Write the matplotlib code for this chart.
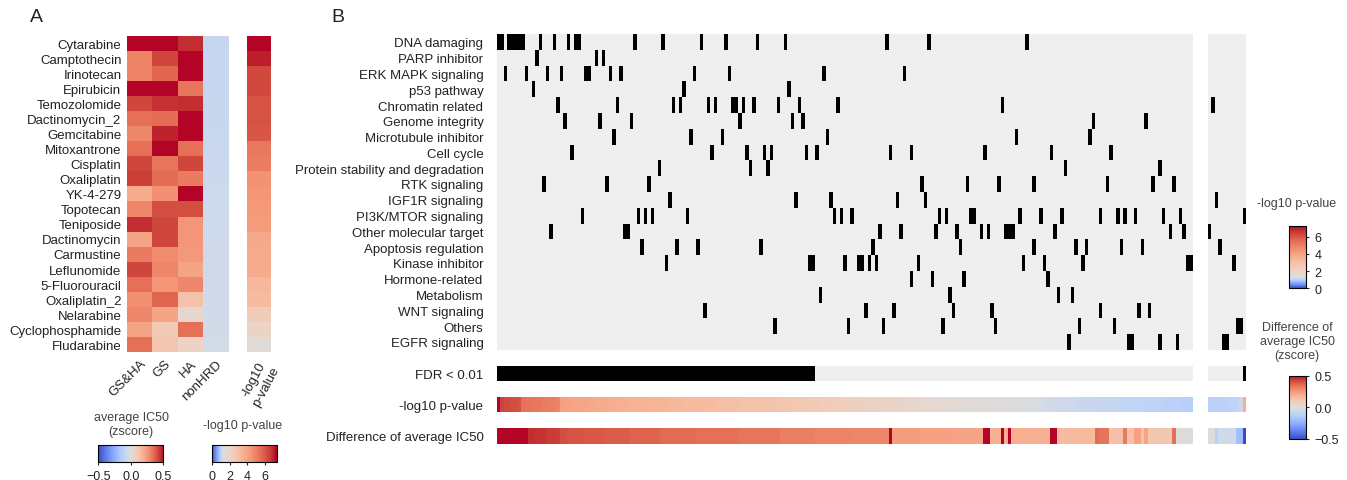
import numpy as np
import matplotlib
matplotlib.use("Agg")
import matplotlib.pyplot as plt
from matplotlib.colors import ListedColormap, Normalize, TwoSlopeNorm
from matplotlib.cm import ScalarMappable

plt.rcParams['font.family'] = ['Liberation Sans', 'DejaVu Sans']
plt.rcParams['font.size'] = 9
plt.rcParams['text.color'] = '#222222'
plt.rcParams['xtick.color'] = '#222222'
plt.rcParams['ytick.color'] = '#222222'

# ---------------- panel A data ----------------
drugs = ["Cytarabine", "Camptothecin", "Irinotecan", "Epirubicin", "Temozolomide",
         "Dactinomycin_2", "Gemcitabine", "Mitoxantrone", "Cisplatin", "Oxaliplatin",
         "YK-4-279", "Topotecan", "Teniposide", "Dactinomycin", "Carmustine",
         "Leflunomide", "5-Fluorouracil", "Oxaliplatin_2", "Nelarabine",
         "Cyclophosphamide", "Fludarabine"]
groups = ["GS&HA", "GS", "HA", "nonHRD"]

ic50_gs_ha = [0.55, 0.30, 0.30, 0.55, 0.42, 0.34, 0.29, 0.34, 0.42, 0.43, 0.20,
              0.29, 0.46, 0.22, 0.32, 0.42, 0.34, 0.27, 0.29, 0.22, 0.34]
ic50_gs = [0.55, 0.42, 0.36, 0.55, 0.45, 0.35, 0.47, 0.55, 0.33, 0.35, 0.27,
           0.41, 0.42, 0.42, 0.28, 0.29, 0.26, 0.36, 0.22, 0.10, 0.12]
ic50_ha = [0.46, 0.55, 0.55, 0.33, 0.46, 0.55, 0.55, 0.34, 0.42, 0.32, 0.55,
           0.41, 0.26, 0.26, 0.25, 0.22, 0.29, 0.13, 0.04, 0.34, 0.06]
ic50_nonhrd = [-0.075, -0.074, -0.073, -0.072, -0.07, -0.068, -0.066, -0.064, -0.062,
               -0.06, -0.058, -0.056, -0.054, -0.052, -0.05, -0.048, -0.046, -0.043,
               -0.04, -0.036, -0.032]
pval_drugs = [7.3, 7.0, 6.3, 6.3, 6.1, 6.1, 6.0, 5.2, 5.1, 4.5, 4.4, 4.3, 4.2,
              3.8, 3.7, 3.7, 3.3, 3.1, 2.4, 2.0, 1.4]

# ---------------- panel B data ----------------
categories = ["DNA damaging", "PARP inhibitor", "ERK MAPK signaling", "p53 pathway",
              "Chromatin related", "Genome integrity", "Microtubule inhibitor",
              "Cell cycle", "Protein stability and degradation", "RTK signaling",
              "IGF1R signaling", "PI3K/MTOR signaling", "Other molecular target",
              "Apoptosis regulation", "Kinase inhibitor", "Hormone-related",
              "Metabolism", "WNT signaling", "Others", "EGFR signaling"]

n_main = 199
n_right = 11

# column index of each drug (sorted by p-value) that belongs to a category
cat_main = [
    [0, 1, 3, 4, 5, 6, 7, 12, 16, 20, 22, 23, 39, 47, 58, 65, 74, 82, 111, 123, 151],
    [11, 28, 30],
    [2, 8, 14, 18, 25, 26, 32, 35, 56, 66, 93, 116],
    [10, 53, 83],
    [17, 34, 50, 52, 60, 62, 67, 68, 70, 73, 80, 86, 97, 144],
    [19, 29, 38, 69, 84, 87, 170, 185],
    [33, 55, 64, 94, 148, 169],
    [21, 61, 71, 76, 78, 88, 91, 112, 118, 139, 158, 175],
    [46, 72, 77, 162, 189],
    [13, 31, 43, 121, 134, 143, 153, 174, 187, 193],
    [49, 85, 95, 114, 122],
    [24, 40, 42, 44, 54, 96, 98, 101, 126, 128, 135, 136, 149, 155, 161, 172, 177,
     179, 182, 190, 195],
    [15, 36, 37, 109, 115, 125, 131, 138, 140, 145, 146, 147, 159, 192, 196],
    [41, 51, 57, 75, 107, 132, 153, 165, 168, 178, 184],
    [48, 89, 90, 99, 103, 104, 106, 108, 120, 150, 156, 167, 197, 198],
    [118, 124, 133, 157],
    [92, 129, 160, 164],
    [59, 105, 113, 130, 141, 172, 183, 186],
    [79, 100, 110, 127, 142, 166, 176],
    [163, 180, 181, 189, 194],
]
cat_right = [[], [], [], [], [1], [], [], [], [], [], [2], [10], [0], [3], [7],
             [], [], [], [8, 9], [4, 5]]

n_fdr_main = 91
fdr_right = [0, 0, 0, 0, 0, 0, 0, 0, 0, 0, 1]

p_main = [
    7.3, 6.4, 6.3, 6.3, 6.2, 6.2, 6.1, 5.4, 5.3, 5.3,
    5.2, 5.2, 5.2, 5.1, 5.1, 5.0, 5.0, 4.9, 4.1, 4.0,
    4.0, 4.0, 3.9, 3.9, 3.9, 3.9, 3.8, 3.8, 3.7, 3.7,
    3.7, 3.7, 3.6, 3.6, 3.6, 3.6, 3.6, 3.5, 3.5, 3.5,
    3.5, 3.5, 3.5, 3.4, 3.4, 3.4, 3.4, 3.4, 3.4, 3.3,
    3.3, 3.3, 3.3, 3.2, 3.2, 3.2, 3.2, 3.2, 3.1, 3.1,
    3.1, 3.1, 3.1, 3.0, 3.0, 3.0, 3.0, 3.0, 3.0, 2.9,
    2.9, 2.9, 2.9, 2.9, 2.9, 2.8, 2.8, 2.8, 2.8, 2.8,
    2.7, 2.7, 2.7, 2.7, 2.6, 2.6, 2.6, 2.6, 2.6, 2.5,
    2.5, 2.5, 2.5, 2.4, 2.4, 2.4, 2.4, 2.3, 2.3, 2.3,
    2.3, 2.2, 2.2, 2.2, 2.2, 2.1, 2.1, 2.1, 2.1, 2.0,
    2.0, 2.0, 2.0, 1.9, 1.9, 1.9, 1.9, 1.8, 1.8, 1.8,
    1.8, 1.75, 1.75, 1.7, 1.7, 1.7, 1.65, 1.65, 1.6, 1.6,
    1.6, 1.55, 1.55, 1.5, 1.5, 1.5, 1.45, 1.45, 1.45, 1.4,
    1.4, 1.4, 1.38, 1.36, 1.35, 1.34, 1.33, 1.32, 1.31, 1.3,
    1.29, 1.28, 1.27, 1.26, 1.25, 1.24, 1.23, 1.22, 1.21, 1.2,
    1.19, 1.18, 1.17, 1.16, 1.15, 1.15, 1.14, 1.14, 1.13, 1.13,
    1.12, 1.12, 1.11, 1.11, 1.1, 1.1, 1.09, 1.09, 1.08, 1.08,
    1.07, 1.07, 1.06, 1.06, 1.05, 1.05, 1.04, 1.04, 1.03, 1.03,
    1.02, 1.02, 1.01, 1.01, 1.0, 1.0, 0.99, 0.99, 0.98,
]
p_right = [1.0, 1.0, 1.01, 1.01, 1.02, 1.02, 1.03, 1.04, 1.06, 1.15, 3.6]

diff_main = [
    0.55, 0.55, 0.55, 0.55, 0.55, 0.55, 0.55, 0.55, 0.55, 0.46,
    0.46, 0.45, 0.45, 0.45, 0.44, 0.44, 0.44, 0.43, 0.41, 0.41,
    0.40, 0.40, 0.40, 0.40, 0.40, 0.39, 0.39, 0.39, 0.39, 0.39,
    0.39, 0.38, 0.38, 0.38, 0.38, 0.38, 0.38, 0.38, 0.37, 0.37,
    0.37, 0.37, 0.37, 0.37, 0.37, 0.37, 0.36, 0.35, 0.35, 0.35,
    0.35, 0.35, 0.35, 0.35, 0.35, 0.35, 0.35, 0.34, 0.34, 0.34,
    0.34, 0.34, 0.34, 0.34, 0.34, 0.34, 0.34, 0.34, 0.34, 0.33,
    0.33, 0.33, 0.33, 0.33, 0.33, 0.33, 0.33, 0.33, 0.33, 0.33,
    0.33, 0.31, 0.31, 0.31, 0.31, 0.31, 0.31, 0.31, 0.31, 0.31,
    0.31, 0.30, 0.30, 0.30, 0.30, 0.30, 0.30, 0.30, 0.30, 0.30,
    0.30, 0.30, 0.29, 0.29, 0.29, 0.29, 0.29, 0.29, 0.29, 0.29,
    0.29, 0.29, 0.60, 0.24, 0.24, 0.24, 0.24, 0.24, 0.24, 0.24,
    0.24, 0.23, 0.23, 0.23, 0.23, 0.23, 0.23, 0.23, 0.23, 0.23,
    0.22, 0.22, 0.22, 0.22, 0.22, 0.22, 0.22, 0.22, 0.22, 0.60,
    0.60, 0.19, 0.19, 0.19, 0.60, 0.19, 0.60, 0.19, 0.19, 0.19,
    0.19, 0.19, 0.19, 0.19, 0.19, 0.19, 0.19, 0.19, 0.60, 0.60,
    0.16, 0.16, 0.16, 0.16, 0.16, 0.16, 0.16, 0.16, 0.16, 0.16,
    0.16, 0.35, 0.33, 0.33, 0.33, 0.14, 0.14, 0.14, 0.14, 0.32,
    0.14, 0.14, 0.23, 0.23, 0.13, 0.22, 0.11, 0.11, 0.11, 0.11,
    0.11, 0.11, 0.11, 0.34, 0.01, 0.01, 0.01, 0.01, 0.01,
]
diff_right = [0.0, 0.0, -0.12, -0.04, -0.05, -0.05, -0.04, -0.04, -0.18, -0.2, -0.55]

# ---------------- figure ----------------
W, H = 1347, 481
fig = plt.figure(figsize=(W / 100, H / 100), dpi=100)


def px_axes(x0, y0, x1, y1):
    return fig.add_axes([x0 / W, 1 - y1 / H, (x1 - x0) / W, (y1 - y0) / H])


def bare(ax):
    ax.set_xticks([])
    ax.set_yticks([])
    for s in ax.spines.values():
        s.set_visible(False)


cmap_ic = plt.get_cmap('coolwarm')
norm_ic = Normalize(-0.5, 0.5)
# p-value colours: coolwarm centred at -log10(0.05), shown on a linear scale
pmax = 7.3
tsn = TwoSlopeNorm(vmin=0, vcenter=1.3, vmax=pmax)
cmap_p = ListedColormap(cmap_ic(tsn(np.linspace(0, pmax, 256))))
norm_p = Normalize(0, pmax)
cmap_bin = ListedColormap(['#efefef', '#000000'])

# ---- panel A ----
fig.text(36 / W, 1 - 18 / H, "A", fontsize=14, ha='center', va='center')

axA = px_axes(127, 37, 228.3, 352.7)
ic50 = np.column_stack([ic50_gs_ha, ic50_gs, ic50_ha, ic50_nonhrd])
axA.imshow(ic50, cmap=cmap_ic, norm=norm_ic, aspect='auto', interpolation='nearest')
for s in axA.spines.values():
    s.set_visible(False)
axA.set_yticks(range(len(drugs)))
axA.set_yticklabels(drugs, fontsize=9.5)
axA.set_xticks(range(len(groups)))
axA.set_xticklabels(groups, rotation=45, ha='right', rotation_mode='anchor', fontsize=9.5)
axA.tick_params(length=0, pad=4)

axAp = px_axes(246.7, 37, 270.7, 352.7)
axAp.imshow(np.array(pval_drugs)[:, None], cmap=cmap_p, norm=norm_p, aspect='auto',
            interpolation='nearest')
for s in axAp.spines.values():
    s.set_visible(False)
axAp.set_yticks([])
axAp.set_xticks([0])
axAp.set_xticklabels(["-log10\np-value"], rotation=62, ha='right', rotation_mode='anchor',
                     fontsize=9.5, multialignment='center')
axAp.tick_params(length=0, pad=4)

caxA1 = px_axes(98.3, 446, 163.3, 462.7)
cb = fig.colorbar(ScalarMappable(norm=norm_ic, cmap=cmap_ic), cax=caxA1, orientation='horizontal')
cb.set_ticks([-0.5, 0.0, 0.5])
cb.ax.tick_params(labelsize=9, length=2.5)
fig.text(131 / W, 1 - 425 / H, "average IC50\n(zscore)", ha='center', va='center',
         fontsize=9, color='#444444')

caxA2 = px_axes(211.7, 446, 276.7, 462.7)
cb = fig.colorbar(ScalarMappable(norm=norm_p, cmap=cmap_p), cax=caxA2, orientation='horizontal')
cb.set_ticks([0, 2, 4, 6])
cb.ax.tick_params(labelsize=9, length=2.5)
fig.text(243 / W, 1 - 426 / H, "-log10 p-value", ha='center', va='center',
         fontsize=9, color='#444444')

# ---- panel B ----
fig.text(338 / W, 1 - 18 / H, "B", fontsize=14, ha='center', va='center')

M = np.zeros((len(categories), n_main))
R = np.zeros((len(categories), n_right))
for i, cols in enumerate(cat_main):
    M[i, cols] = 1
for i, cols in enumerate(cat_right):
    R[i, cols] = 1

top, bot = 35, 350.7
xl0, xl1 = 497.3, 1192.7
xr0, xr1 = 1207.7, 1245

axM = px_axes(xl0, top, xl1, bot)
axM.imshow(M, cmap=cmap_bin, vmin=0, vmax=1, aspect='auto', interpolation='nearest')
bare(axM)
axM.set_yticks(range(len(categories)))
axM.set_yticklabels(categories, fontsize=9.5)
axM.tick_params(length=0, pad=10)

axR = px_axes(xr0, top, xr1, bot)
axR.imshow(R, cmap=cmap_bin, vmin=0, vmax=1, aspect='auto', interpolation='nearest')
bare(axR)

fdr_main = (np.arange(n_main) < n_fdr_main).astype(float)
strips = [
    ("FDR < 0.01", 366.7, 382.3, fdr_main, fdr_right, cmap_bin, Normalize(0, 1)),
    ("-log10 p-value", 397.7, 413.3, p_main, p_right, cmap_p, norm_p),
    ("Difference of average IC50", 429, 445, diff_main, diff_right, cmap_ic, norm_ic),
]
for label, y0, y1, vm, vr, cm, nm in strips:
    a = px_axes(xl0, y0, xl1, y1)
    a.imshow(np.array(vm)[None, :], cmap=cm, norm=nm, aspect='auto', interpolation='nearest')
    bare(a)
    a.set_yticks([0])
    a.set_yticklabels([label], fontsize=9.5)
    a.tick_params(length=0, pad=10)
    b = px_axes(xr0, y0, xr1, y1)
    b.imshow(np.array(vr)[None, :], cmap=cm, norm=nm, aspect='auto', interpolation='nearest')
    bare(b)

caxB1 = px_axes(1289.3, 226.7, 1306, 289.3)
cb = fig.colorbar(ScalarMappable(norm=norm_p, cmap=cmap_p), cax=caxB1)
cb.set_ticks([0, 2, 4, 6])
cb.ax.tick_params(labelsize=9, length=2.5)
fig.text(1297 / W, 1 - 204 / H, "-log10 p-value", ha='center', va='center',
         fontsize=9, color='#444444')

caxB2 = px_axes(1289.3, 376.7, 1306, 440)
cb = fig.colorbar(ScalarMappable(norm=norm_ic, cmap=cmap_ic), cax=caxB2)
cb.set_ticks([-0.5, 0.0, 0.5])
cb.ax.tick_params(labelsize=9, length=2.5)
fig.text(1297 / W, 1 - 342 / H, "Difference of\naverage IC50\n(zscore)", ha='center',
         va='center', fontsize=9, color='#444444', linespacing=1.25)

fig.savefig("out.png", dpi=100)
